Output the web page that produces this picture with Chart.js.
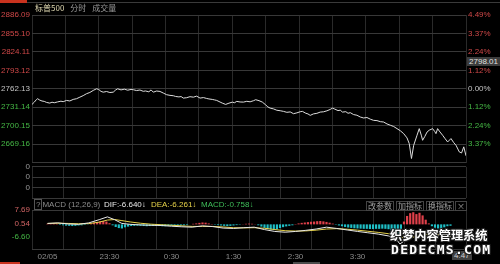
<!DOCTYPE html>
<html>
<head>
<meta charset="utf-8">
<script src="https://cdn.jsdelivr.net/npm/chart.js"></script>
<style>
  body { margin: 0; background: #000; }
  #wrap { position: relative; width: 500px; height: 264px; background: #000; overflow: hidden;
          font-family: "Liberation Sans", Arial, sans-serif; }
  canvas { position: absolute; left: 0; }
  .t { position: absolute; white-space: nowrap; font-size: 8px; line-height: 10px; }
  .cn { font-family: "Noto Sans CJK SC", sans-serif; }
  .btn { position: absolute; top: 201px; height: 8px; line-height: 8px; font-size: 8px; color: #a0a0a0;
         border: 1px solid #444; padding: 0 1px; font-family: "Noto Sans CJK SC", sans-serif; }
  .wm { position: absolute; color: #fff; font-weight: bold; white-space: nowrap;
        text-shadow: -1px -1px 0 #222, 1px -1px 0 #222, -1px 1px 0 #222, 1px 1px 0 #222; }
</style>
</head>
<body>
<div id="wrap">
  <!-- top tab strip -->
  <div style="position:absolute;left:0;top:0;width:27px;height:3px;background:#c8321e"></div>
  <div style="position:absolute;left:27px;top:2px;width:473px;height:1px;background:#3a3a3a"></div>

  <canvas id="price" width="500" height="170" style="top:0"></canvas>
  <canvas id="vol" width="500" height="45" style="top:160px"></canvas>
  <canvas id="macd" width="500" height="64" style="top:200px"></canvas>

  <div class="t cn" style="left:35px;top:3px"><span style="color:#ddd6b0">标普500</span><span style="color:#9a9a9a;margin-left:6px">分时</span><span style="color:#9a9a9a;margin-left:6px">成交量</span></div>

  <div class="t" style="left:467px;top:57px;width:33px;height:9px;line-height:9px;background:#3c3c3c;color:#e0e0e0;text-align:center">2798.01</div>

  <!-- MACD header -->
  <div class="t" style="left:34px;top:200px;color:#8c8c8c"><span style="border:1px solid #555;padding:0 1px;line-height:8px">?</span>MACD (12,26,9)</div>
  <div class="t" style="left:104px;top:200px;color:#e8e8e8">DIF:-6.640↓</div>
  <div class="t" style="left:151px;top:200px;color:#e6d24a">DEA:-6.261↓</div>
  <div class="t" style="left:201px;top:200px;color:#3fbf5a">MACD:-0.758↓</div>
  <div class="btn" style="left:366px">改参数</div>
  <div class="btn" style="left:396px">加指标</div>
  <div class="btn" style="left:426px">换指标</div>
  <div class="btn" style="left:455px;padding:0 1px">×</div>

  <div class="t" style="left:452px;top:251px;height:9px;line-height:9px;background:#404040;color:#cfcfcf;padding:0 2px">4:47</div>
  <div style="position:absolute;left:0;top:262px;width:20px;height:2px;background:#c8321e"></div>
  <div style="position:absolute;left:293px;top:262px;width:27px;height:2px;background:#4a4a4a"></div>

  <!-- watermark -->
  <div class="wm cn" style="left:390px;top:228px;font-size:12.2px;line-height:15px">织梦内容管理系统</div>
  <div class="wm" style="left:391px;top:243px;font-size:13px;line-height:13px;font-family:'DejaVu Sans Mono',monospace;letter-spacing:1.3px">DEDECMS.COM</div>
</div>

<script>
// time axis (minutes from open, 22:30 Beijing time)
const gridMinutes = [0, 30, 60, 90, 120, 150, 180, 210, 240, 270, 300, 330, 360, 390];
const timeLabels = ['02/05', '', '23:30', '', '0:30', '', '1:30', '', '2:30', '', '3:30', '', '', ''];

// price panel
const priceTicks = [2886.09, 2855.10, 2824.11, 2793.12, 2762.13, 2731.14, 2700.15, 2669.16, 2638.17];
const priceLabels = ['2886.09', '2855.10', '2824.11', '2793.12', '2762.13', '2731.14', '2700.15', '2669.16', ''];
const pctLabels = ['4.49%', '3.37%', '2.24%', '1.12%', '0.00%', '1.12%', '2.24%', '3.37%', ''];
const prevClose = 2762.13;

const priceMinutes = [0, 2, 4, 5, 7, 9, 11, 13, 16, 18, 20, 23, 26, 28, 31, 34, 37, 40, 43, 46, 49, 52, 55, 58,
  60, 62, 64, 67, 70, 73, 75, 77, 80, 83, 86, 89, 91, 94, 97, 100, 102, 105, 107, 109, 112, 115, 118, 121,
  124, 127, 129, 132, 134, 136, 139, 142, 145, 148, 151, 154, 157, 159, 162, 164, 166, 169, 171, 174, 177,
  180, 182, 184, 187, 190, 193, 196, 199, 201, 204, 207, 210, 212, 214, 217, 220, 223, 226, 229, 232, 235,
  238, 241, 243, 246, 248, 250, 253, 256, 259, 262, 265, 268, 270, 272, 275, 277, 279, 282, 284, 286, 289,
  292, 295, 298, 301, 304, 307, 310, 313, 316, 319, 322, 325, 328, 331, 334, 337, 339, 341, 343, 346, 348,
  350, 351, 353, 355, 357, 360, 362, 363, 364.5, 366, 369, 371, 373.5, 376.5, 379, 381, 384, 386, 388, 390];
const priceValues = [2735.8, 2739.5, 2744.0, 2745.4, 2743.0, 2741.5, 2740.9, 2739.2, 2738.0, 2739.5, 2738.6,
  2740.0, 2741.2, 2740.4, 2742.5, 2741.6, 2744.2, 2745.4, 2748.0, 2750.6, 2753.8, 2755.9, 2759.3, 2762.1,
  2760.8, 2757.7, 2756.4, 2757.5, 2755.8, 2756.4, 2759.8, 2762.1, 2760.2, 2761.4, 2759.7, 2761.0, 2760.5,
  2759.1, 2760.0, 2757.8, 2758.4, 2757.0, 2760.2, 2756.4, 2758.3, 2757.6, 2754.9, 2752.1, 2751.0, 2750.4,
  2749.2, 2748.4, 2749.0, 2746.4, 2747.1, 2748.8, 2748.0, 2749.7, 2746.4, 2747.3, 2745.8, 2745.0, 2744.2,
  2743.4, 2742.5, 2739.8, 2738.0, 2735.8, 2737.9, 2739.6, 2738.7, 2740.9, 2739.9, 2739.7, 2741.0, 2740.2,
  2742.0, 2743.7, 2742.1, 2739.7, 2735.0, 2731.5, 2729.6, 2728.3, 2726.0, 2725.2, 2724.1, 2722.5, 2723.2,
  2720.2, 2721.6, 2723.5, 2724.1, 2721.0, 2719.8, 2717.4, 2719.9, 2720.8, 2722.9, 2723.4, 2725.0, 2727.4,
  2729.6, 2728.0, 2725.4, 2726.1, 2722.9, 2723.6, 2720.9, 2721.9, 2718.7, 2717.6, 2714.6, 2713.0, 2713.8,
  2711.0, 2709.0, 2708.6, 2706.8, 2706.2, 2703.0, 2700.8, 2698.7, 2695.1, 2691.5, 2686.7, 2679.5, 2670.0,
  2644.9, 2667.1, 2684.0, 2695.1, 2683.0, 2675.5, 2682.0, 2689.4, 2692.5, 2695.1, 2690.0, 2686.7, 2695.1,
  2691.0, 2683.9, 2678.8, 2672.7, 2678.4, 2671.5, 2667.1, 2655.9, 2654.2, 2664.5, 2649.4];

// volume panel (empty, all zero)
const volTicks = [3, 2, 1, 0];
const volLabels = ['0', '0', '0', ''];

// MACD panel
const macdTicks = [7.69, 0.54, -6.60, -13.2];
const macdLabels = ['7.69', '0.54', '-6.60', ''];
const lineMinutes = [0, 10, 20, 30, 40, 50, 58, 65, 72, 80, 90, 100, 110, 120, 130, 140, 150, 160, 170, 180,
  190, 200, 210, 220, 230, 240, 250, 260, 270, 280, 290, 300, 310, 320, 330, 337, 341, 345, 350, 355, 360,
  365, 370, 375, 380, 385, 390];
const difValues = [0.5, 0.8, 0.2, 0.0, 0.8, 2.5, 4.0, 2.5, 0.5, 0.0, -0.3, -0.5, -0.6, -1.0, -1.3, -1.5, -0.8,
  -1.2, -2.0, -2.2, -1.8, -1.5, -2.8, -3.8, -4.2, -3.8, -3.2, -2.5, -1.5, -2.2, -3.0, -3.8, -4.5, -5.2, -6.2,
  -7.5, -10.5, -9.0, -6.0, -4.5, -3.5, -3.8, -4.8, -5.5, -6.0, -6.8, -6.64];
const deaValues = [0.5, 0.6, 0.5, 0.3, 0.4, 1.2, 2.3, 2.6, 2.0, 1.3, 0.6, 0.1, -0.2, -0.5, -0.8, -1.1, -1.1,
  -1.1, -1.4, -1.8, -1.9, -1.8, -2.1, -2.8, -3.4, -3.6, -3.5, -3.1, -2.5, -2.3, -2.6, -3.1, -3.7, -4.3, -5.0,
  -5.6, -6.5, -7.3, -7.2, -6.7, -6.0, -5.5, -5.3, -5.4, -5.6, -6.0, -6.26];
const histStep = 3; // one bar every 3 minutes
const histValues = [0.3, 0.5, 0.6, 0.4,
  -0.3, -0.5, -0.7, -0.8, -0.9, -0.8, -0.6, -0.5, -0.3, -0.1,
  0.4, 0.9, 1.3, 1.6, 1.8, 1.5,
  0.6, -0.5, -1.4, -2.0, -2.2, -1.6,
  -1.2, -0.9, -0.8, -0.7, -0.8, -0.9, -1.0, -0.9, -0.8, -0.8, -0.9, -1.0, -1.0, -0.9, -0.8, -0.7, -0.7, -0.6,
  -0.5, -0.3, 0.0, 0.3, 0.5, 0.8,
  1.0, 0.9, 0.5, 0.2,
  -0.2, -0.4, -0.6, -0.8, -0.9, -0.8, -0.6, -0.4, -0.2, 0.1, 0.3, 0.4, 0.3, 0.1,
  -0.5, -1.2, -1.9, -2.5, -2.8, -2.9, -2.6, -2.0,
  -1.5, -1.1, -0.8, -0.5,
  0.2, 0.5, 0.8, 1.0, 1.2, 1.4, 1.5, 1.7, 1.8, 1.6, 1.3, 0.9, 0.4,
  -0.2, -0.6, -1.0, -1.4, -1.7, -1.9, -2.1, -2.2, -2.3, -2.4, -2.4, -2.5, -2.5, -2.4, -2.4, -2.3, -2.4, -2.6,
  -3.2, -4.0, -5.5, -7.0,
  1.5, 4.5, 6.0, 6.5, 5.5, 6.2, 4.8,
  2.5, 0.5, -1.0, -1.8, -2.2, -2.0, -1.6, -1.0, -0.76];

const RED = '#d04848', GREEN = '#45b845', GREY = '#c4c4c4', AXIS = '#8c8c8c';
const HGRID = '#383838', VGRID = '#2a2a2a';

Chart.defaults.font.family = '"Liberation Sans", Arial, sans-serif';
Chart.defaults.font.size = 8;
Chart.defaults.animation = false;

function xScale(showLabels) {
  return {
    type: 'linear', min: 0, max: 390,
    afterBuildTicks: s => { s.ticks = gridMinutes.map(v => ({ value: v })); },
    grid: { color: VGRID, drawTicks: false },
    border: { display: false },
    ticks: {
      display: showLabels, autoSkip: false, maxRotation: 0, color: AXIS, padding: 3,
      callback: (v, i) => timeLabels[i]
    },
    afterFit: s => { s.height = showLabels ? 15 : 0; }
  };
}

function yScale(tickValues, labels, min, max, colorFn, opts) {
  opts = opts || {};
  return {
    position: opts.position || 'left',
    min: min, max: max,
    afterBuildTicks: s => { s.ticks = tickValues.map(v => ({ value: v })); },
    afterFit: s => { s.width = opts.width || 32; },
    grid: { display: opts.grid !== false, color: opts.gridColor || HGRID, drawTicks: false },
    border: { display: false },
    ticks: {
      autoSkip: false, padding: 2, color: colorFn,
      callback: (v, i) => labels[i]
    }
  };
}

function priceColor(ctx) {
  const v = ctx.tick.value;
  if (Math.abs(v - prevClose) < 0.01) return GREY;
  return v > prevClose ? RED : GREEN;
}

new Chart(document.getElementById('price'), {
  type: 'line',
  data: {
    datasets: [{
      data: priceMinutes.map((m, i) => ({ x: m, y: priceValues[i] })),
      borderColor: '#dcdcdc', borderWidth: 1, pointRadius: 0, tension: 0
    }]
  },
  options: {
    responsive: false, devicePixelRatio: 1,
    layout: { padding: { top: 15, bottom: 7.5, left: 0, right: 0 } },
    plugins: { legend: { display: false }, tooltip: { enabled: false } },
    scales: {
      x: xScale(false),
      y: yScale(priceTicks, priceLabels, 2638.17, 2886.09, priceColor),
      y2: yScale(priceTicks, pctLabels, 2638.17, 2886.09, priceColor, { position: 'right', width: 34, grid: false })
    }
  }
});

new Chart(document.getElementById('vol'), {
  type: 'bar',
  data: { datasets: [{ data: [] }] },
  options: {
    responsive: false, devicePixelRatio: 1,
    layout: { padding: { top: 2.5, bottom: 5, left: 0, right: 34 } },
    plugins: { legend: { display: false }, tooltip: { enabled: false } },
    scales: {
      x: xScale(false),
      y: yScale(volTicks, volLabels, 0, 3, () => '#9a9a9a')
    }
  }
});

new Chart(document.getElementById('macd'), {
  data: {
    datasets: [
      {
        type: 'bar',
        data: histValues.map((v, i) => ({ x: i * histStep, y: v })),
        backgroundColor: histValues.map(v => v >= 0 ? '#e0404a' : '#1fbfc6'),
        barPercentage: 0.7, categoryPercentage: 1, order: 2
      },
      {
        type: 'line',
        data: lineMinutes.map((m, i) => ({ x: m, y: deaValues[i] })),
        borderColor: '#e6d24a', borderWidth: 1, pointRadius: 0, order: 1
      },
      {
        type: 'line',
        data: lineMinutes.map((m, i) => ({ x: m, y: difValues[i] })),
        borderColor: '#e8e8e8', borderWidth: 1, pointRadius: 0, order: 0
      }
    ]
  },
  options: {
    responsive: false, devicePixelRatio: 1,
    layout: { padding: { top: 10, bottom: 0, left: 0, right: 34 } },
    plugins: { legend: { display: false }, tooltip: { enabled: false } },
    scales: {
      x: xScale(true),
      y: yScale(macdTicks, macdLabels, -13.2, 7.69,
        ctx => ctx.tick.value > 0 ? '#d06464' : GREEN,
        { gridColor: ctx => (ctx.tick && (ctx.tick.value === 7.69 || ctx.tick.value === -13.2)) ? HGRID : 'rgba(0,0,0,0)' })
    }
  }
});
</script>
</body>
</html>
